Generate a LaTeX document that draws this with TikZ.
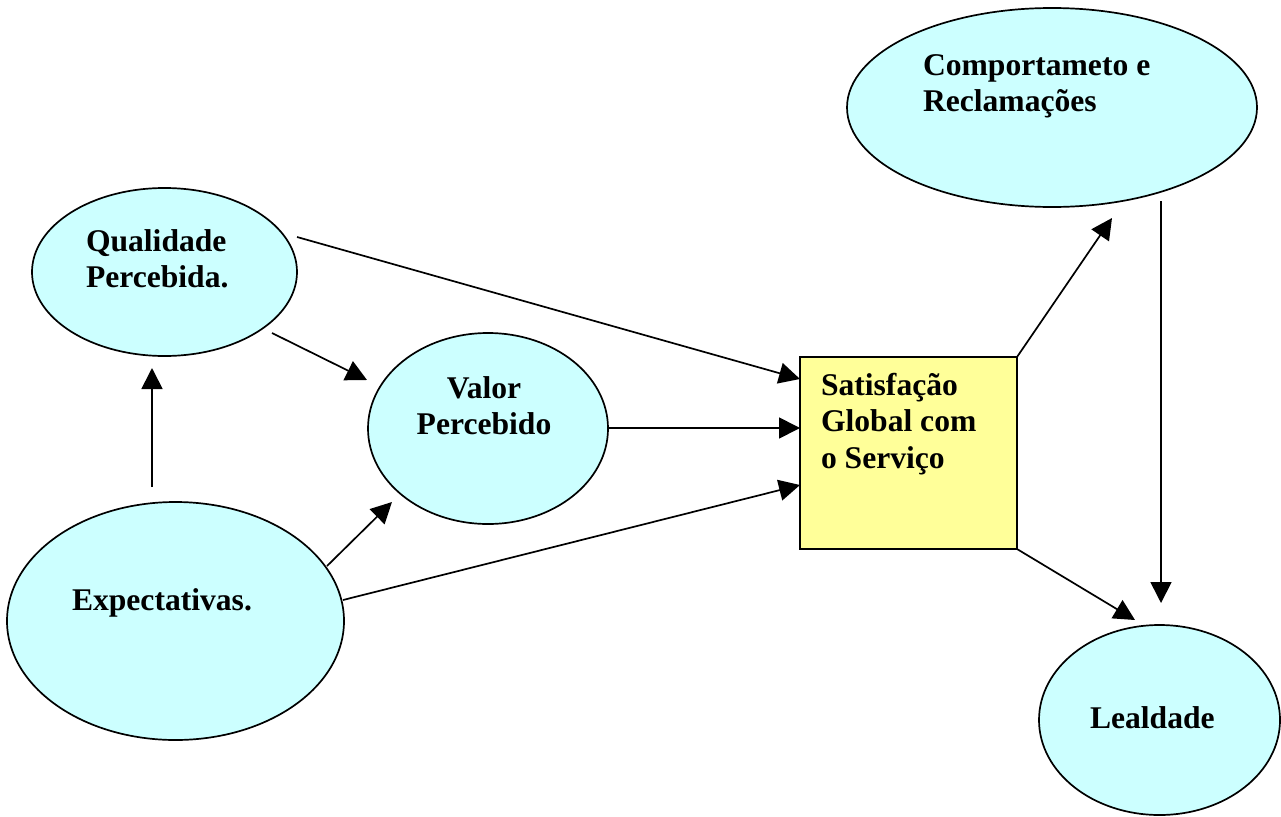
\documentclass[tikz,border=0pt]{standalone}
\usepackage{fontspec}
\setmainfont{Liberation Serif}
\usetikzlibrary{shapes.geometric,arrows.meta}
\definecolor{cyanfill}{HTML}{CCFFFF}
\definecolor{boxfill}{HTML}{FFFF99}
% a block of lines whose baseline is that of its first line
\newcommand\lineblock[2]{\begin{tabular}[t]{@{}#1@{}}#2\end{tabular}}
\begin{document}
\begin{tikzpicture}[x=1pt,y=-1pt,
  bubble/.style={ellipse,draw=black,line width=1.7pt,fill=cyanfill,inner sep=0pt,outer sep=0pt},
  boxnode/.style={rectangle,draw=black,line width=1.7pt,fill=boxfill,inner sep=0pt,outer sep=0pt},
  txt/.style={inner sep=0pt,outer sep=0pt,font=\fontsize{31.6}{36.5}\selectfont\bfseries},
  link/.style={line width=1.7pt,-{Triangle[length=21pt,width=21pt]}}]
\useasboundingbox (0,0) rectangle (1281,816);

% shapes
\node[bubble,minimum width=265,minimum height=168] (qual) at (164.5,272) {};
\node[bubble,minimum width=337,minimum height=238] (exp) at (175.5,621) {};
\node[bubble,minimum width=240,minimum height=191] (valor) at (488,428.5) {};
\node[boxnode,minimum width=217,minimum height=192] (sat) at (908.5,453) {};
\node[bubble,minimum width=410,minimum height=199] (comp) at (1052,107.5) {};
\node[bubble,minimum width=241,minimum height=190] (leal) at (1159.5,720) {};

% texts
\node[txt,anchor=base west] (qualtxt) at (86,251) {\lineblock{l}{Qualidade\\Percebida.}};
\node[txt,anchor=base west] (exptxt) at (72,610) {Expectativas.};
\node[txt,anchor=base] (valortxt) at (484,398) {\lineblock{c}{Valor\\Percebido}};
\node[txt,anchor=base west] (sattxt) at (821,395) {\lineblock{l}{Satisfação\\Global com\\o Serviço}};
\node[txt,anchor=base west] (comptxt) at (923,75) {\lineblock{l}{Comportameto e\\Reclamações}};
\node[txt,anchor=base west] (lealtxt) at (1090,728) {Lealdade};

% connector ends, placed relative to their shapes
\coordinate (qA) at ([shift={(-12.5,96)}]qual.center);
\coordinate (qB) at ([shift={(107.5,61)}]qual.center);
\coordinate (qD) at ([shift={(132.5,-35)}]qual.center);
\coordinate (eA) at ([shift={(-23.5,-134)}]exp.center);
\coordinate (eC) at ([shift={(151.5,-55)}]exp.center);
\coordinate (eF) at ([shift={(167.5,-21)}]exp.center);
\coordinate (vB) at ([shift={(-121,-48.5)}]valor.center);
\coordinate (vC) at ([shift={(-96,73.5)}]valor.center);
\coordinate (vE) at ([shift={(120,-0.5)}]valor.center);
\coordinate (sD) at ([shift={(0,-74)}]sat.west);
\coordinate (sE) at ([shift={(0,-25)}]sat.west);
\coordinate (sF) at ([shift={(0,32)}]sat.west);
\coordinate (cG) at ([shift={(60,110.5)}]comp.center);
\coordinate (cH) at ([shift={(109,93.5)}]comp.center);
\coordinate (lH) at ([shift={(1.5,-117)}]leal.center);
\coordinate (lI) at ([shift={(-24.5,-100)}]leal.center);

% connectors
\draw[link] (eA) -- (qA);
\draw[link] (qB) -- (vB);
\draw[link] (eC) -- (vC);
\draw[link] (qD) -- (sD);
\draw[link] (vE) -- (sE);
\draw[link] (eF) -- (sF);
\draw[link] (sat.north east) -- (cG);
\draw[link] (cH) -- (lH);
\draw[link] (sat.south east) -- (lI);
\end{tikzpicture}
\end{document}
